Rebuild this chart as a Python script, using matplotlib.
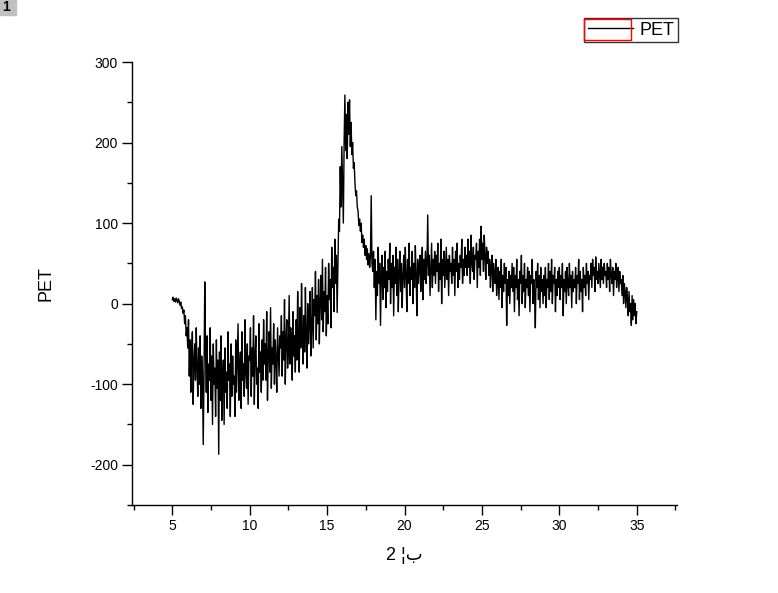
import numpy as np
import matplotlib
matplotlib.use("Agg")
import matplotlib.pyplot as plt
from matplotlib.patches import Rectangle
from matplotlib.ticker import MultipleLocator

plt.rcParams['font.family'] = ['Liberation Sans', 'DejaVu Sans']
plt.rcParams['axes.unicode_minus'] = False

# intensity, one row per degree of 2-theta (step 0.05)
rows = {
    5: [5, 8, 3, 6, 2, 7, 4, 1, 6, 3, -2, 2, -6, -4, -12, -8, -25, -15, -40, -30],
    6: [-55, -20, -90, -45, -110, -60, -35, -125, -70, -50, -95, -30, -80, -115, -55, -100, -40, -130, -65, -85],
    7: [-175, -90, 27, -60, -110, -40, -135, -75, -95, -30, -120, -65, -150, -50, -100, -80, -140, -45, -105, -70],
    8: [-187, -60, -120, -40, -145, -90, -70, -150, -55, -110, -85, -130, -35, -95, -75, -140, -50, -115, -65, -100],
    9: [-90, -140, -45, -110, -70, -25, -120, -80, -60, -130, -35, -95, -75, -115, -20, -85, -105, -50, -125, -65],
    10: [-70, -30, -115, -55, -90, -15, -125, -65, -40, -100, -80, -130, -25, -85, -60, -110, -45, -95, -20, -75],
    11: [-50, -95, -10, -120, -65, -35, -85, -5, -105, -55, -75, -25, -100, -45, -70, -110, -30, -60, -90, -40],
    12: [-55, -15, -90, -35, -70, 5, -100, -45, -20, -80, -60, 10, -75, -30, -50, -95, -10, -65, -40, -85],
    13: [-20, -70, 15, -45, -85, -5, -55, 25, -35, -75, -15, -60, 20, -40, -80, 0, -50, -25, 15, -65],
    14: [-30, 20, -55, 5, -15, 40, -45, 10, -25, 30, -50, 0, 35, -20, 55, -35, 15, -10, 45, -40],
    15: [10, -25, 50, 5, 30, -30, 70, 20, 45, -10, 80, 25, 60, -11, 45, 105, 90, 170, 120, 195],
    16: [150, 100, 200, 259, 190, 235, 180, 250, 210, 253, 195, 225, 185, 200, 168, 175, 150, 134, 140, 120],
    17: [115, 97, 105, 90, 100, 76, 85, 70, 80, 60, 72, 55, 68, 48, 62, 45, 58, 134, 50, 40],
    18: [65, 20, 55, -20, 40, 10, 70, 25, 50, -27, 35, 60, 5, 45, 20, 65, -5, 40, 15, 55],
    19: [30, 75, 0, 50, 20, 60, -15, 45, 25, 70, 10, 55, -10, 40, 65, 15, 50, -5, 35, 60],
    20: [20, 70, 35, -10, 55, 25, 75, 10, 45, 30, 65, 0, 50, 20, 72, 35, -15, 55, 25, 45],
    21: [60, 15, 45, 70, 5, 55, 30, 65, 25, 50, 110, 35, 60, 10, 45, 75, 20, 55, 35, 65],
    22: [25, 60, 40, 75, 15, 50, 30, 80, 0, 55, 35, 65, 20, 45, 70, 30, 55, 10, 60, 40],
    23: [50, 25, 70, 35, 55, 10, 65, 40, 75, 20, 50, 30, 60, 45, 80, 25, 55, 35, 70, 45],
    24: [60, 35, 80, 45, 65, 25, 85, 50, 40, 70, 30, 60, 55, 75, 20, 65, 45, 80, 35, 96],
    25: [55, 75, 40, 85, 60, 30, 70, 50, 65, 35, 55, 20, 45, 60, 15, 50, 35, 25, 55, 10],
    26: [30, 45, 5, 40, 20, 55, -5, 35, 15, 50, 25, 45, -27, 30, 10, 40, 0, 35, 20, 50],
    27: [15, 45, -10, 35, 20, 55, 5, 30, -15, 40, 25, 60, 0, 35, 15, 50, -5, 30, 20, 45],
    28: [10, 40, -10, 35, 25, 55, 0, 30, 15, -30, 40, 20, 50, 5, 35, -5, 45, 15, 30, 0],
    29: [35, 10, 45, -5, 30, 20, 50, 5, 40, 15, 55, 0, 35, 25, 45, -10, 30, 10, 40, 20],
    30: [45, 5, 35, 20, 50, -15, 30, 15, 40, 0, 45, 25, 10, 50, 20, 35, -5, 40, 15, 30],
    31: [20, 45, 0, 35, 25, 55, 5, 40, 15, 30, -10, 45, 20, 35, 10, 50, 25, 40, 5, 35],
    32: [30, 50, 20, 55, 35, 45, 15, 58, 30, 40, 25, 50, 35, 20, 55, 30, 45, 25, 50, 35],
    33: [40, 20, 50, 30, 45, 15, 55, 35, 25, 45, 10, 40, 30, 50, 20, 35, 45, 15, 40, 25],
    34: [30, 10, 35, 0, 25, 15, -5, 20, 5, -15, 15, -10, 0, -27, 10, -20, 5, -15, 0, -25],
}
last_point = (35.0, -10)

two_theta = []
pet = []
for deg, vals in rows.items():
    two_theta.extend(np.linspace(deg, deg + 1, len(vals), endpoint=False))
    pet.extend(vals)
two_theta.append(last_point[0])
pet.append(last_point[1])

fig = plt.figure(figsize=(7.78, 5.93), dpi=100)
ax = fig.add_axes([132 / 778, 88 / 593, 545 / 778, 443 / 593])

ax.plot(two_theta, pet, color='black', lw=1.0, label='PET')

ax.set_xlim(2.4, 37.6)
ax.set_ylim(-250, 300)
ax.xaxis.set_major_locator(MultipleLocator(5))
ax.xaxis.set_minor_locator(MultipleLocator(2.5))
ax.yaxis.set_major_locator(MultipleLocator(100))
ax.yaxis.set_minor_locator(MultipleLocator(50))
ax.tick_params(which='major', direction='out', length=7, width=1, labelsize=10, pad=3)
ax.tick_params(which='minor', direction='out', length=3.5, width=1)
for s in ['top', 'right']:
    ax.spines[s].set_visible(False)
for s in ['left', 'bottom']:
    ax.spines[s].set_linewidth(1)

ax.set_ylabel('PET', fontsize=13, labelpad=26)
ax.set_xlabel('2 ¦ب', fontsize=13, labelpad=10)

leg = ax.legend(loc='upper right', bbox_to_anchor=(678 / 778, 1 - 18 / 593),
                bbox_transform=fig.transFigure, fontsize=13, frameon=True,
                fancybox=False, handlelength=2.5, handletextpad=0.35,
                borderpad=0.2, borderaxespad=0)
leg.get_frame().set_edgecolor('black')
leg.get_frame().set_linewidth(1)

# Origin selection marks around the legend sample
fig.patches.append(Rectangle((584 / 778, 1 - 40 / 593), 47 / 778, 21 / 593,
                             transform=fig.transFigure, fill=False,
                             edgecolor='red', lw=1))
# layer tag in the corner
fig.patches.append(Rectangle((0, 1 - 15 / 593), 16 / 778, 15 / 593,
                             transform=fig.transFigure, color='#c0c0c0'))
fig.text(2 / 778, 1 - 7 / 593, '1', fontsize=10, fontweight='bold',
         va='center', ha='left')

fig.savefig('out.png', dpi=100)
